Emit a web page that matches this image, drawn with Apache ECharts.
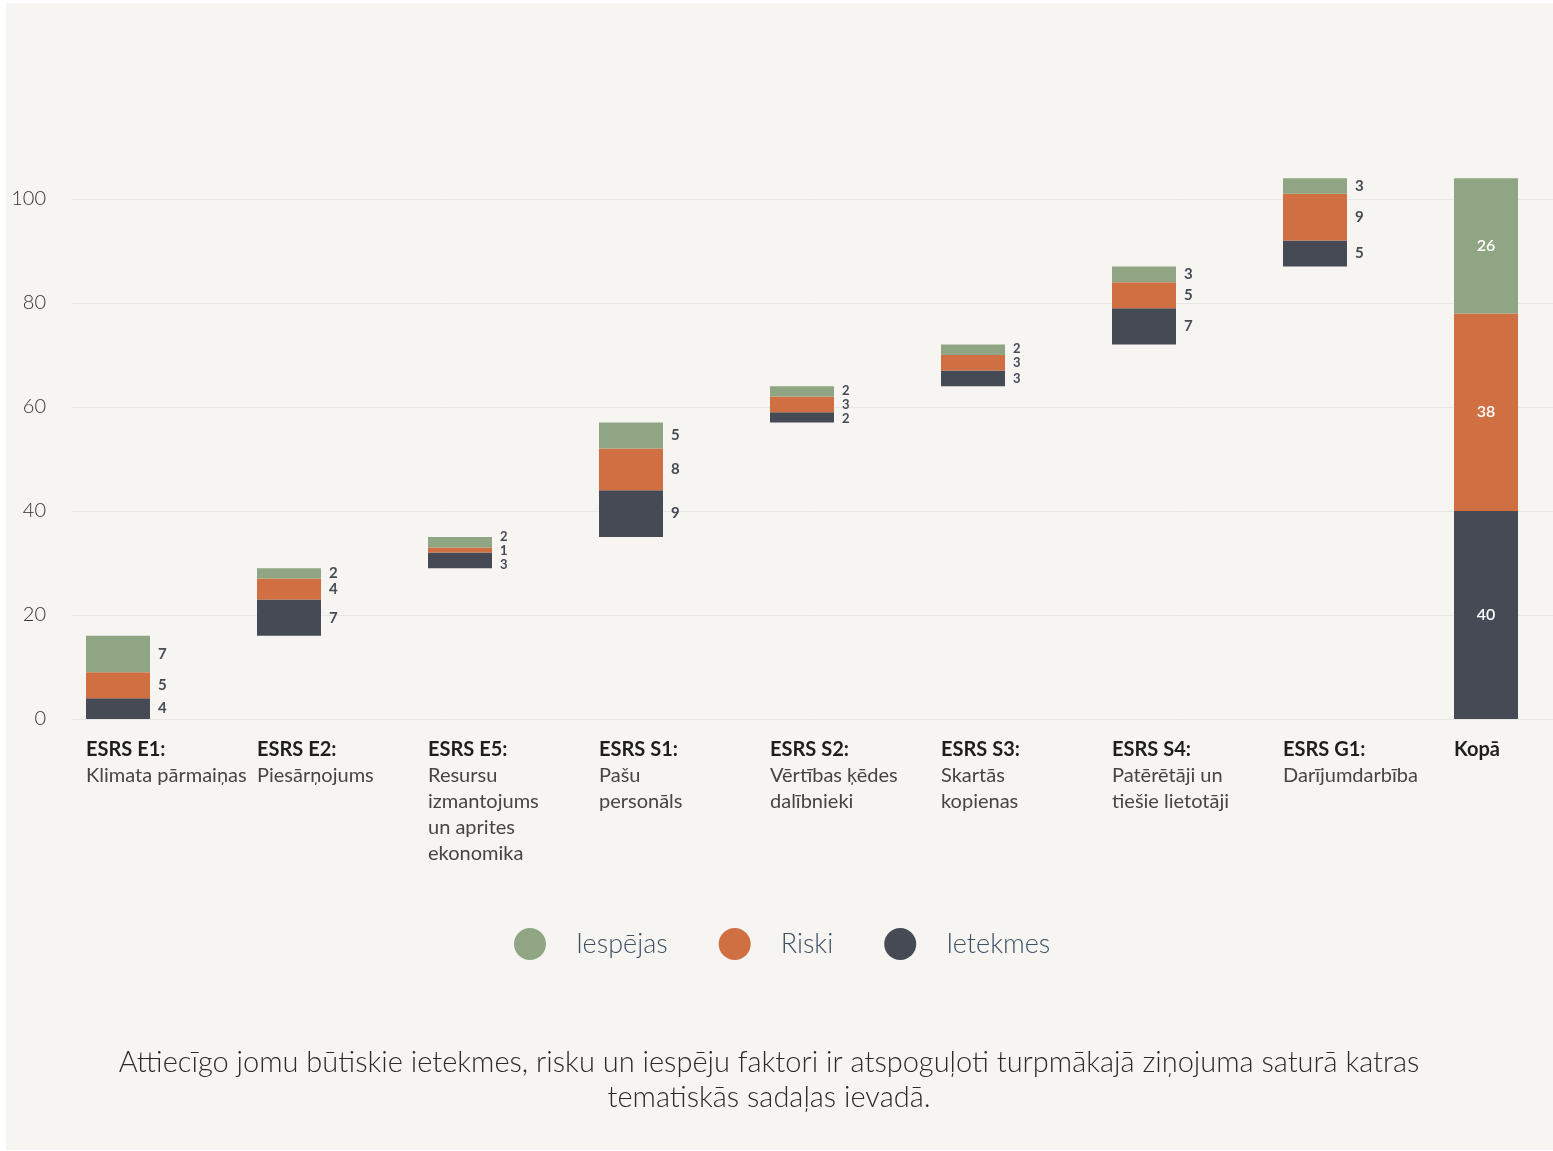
<!DOCTYPE html>
<html><head><meta charset="utf-8">
<script src="https://cdn.jsdelivr.net/npm/echarts@6/dist/echarts.min.js"></script>
<style>
html,body{margin:0;padding:0;background:#fff;}
#c{position:absolute;left:6px;top:3px;width:1547px;height:1147px;background:#f7f5f1;}
</style></head><body><div id="c"></div>
<script>
// ---- data ----
const codes = ['ESRS E1:','ESRS E2:','ESRS E5:','ESRS S1:','ESRS S2:','ESRS S3:','ESRS S4:','ESRS G1:','Kopā'];
const descs = ['Klimata pārmaiņas','Piesārņojums','Resursu\nizmantojums\nun aprites\nekonomika','Pašu\npersonāls','Vērtības ķēdes\ndalībnieki','Skartās\nkopienas','Patērētāji un\ntiešie lietotāji','Darījumdarbība',''];
const ietekmes = [4,7,3,9,2,3,7,5,40];
const riski    = [5,4,1,8,3,3,5,9,38];
const iespejas = [7,2,2,5,2,2,3,3,26];
const legendNames = ['Iespējas','Riski','Ietekmes'];
const footnote = 'Attiecīgo jomu būtiskie ietekmes, risku un iespēju faktori ir atspoguļoti turpmākajā ziņojuma saturā katras\ntematiskās sadaļas ievadā.';

// ---- derived waterfall base ----
const last = codes.length - 1;
const base = [];
let acc = 0;
for (let i = 0; i < codes.length; i++) {
  if (i === last) { base.push(0); }
  else { base.push(acc); acc += ietekmes[i] + riski[i] + iespejas[i]; }
}
const colTotal = i => ietekmes[i] + riski[i] + iespejas[i];
const labelFs = i => (colTotal(i) < 10 ? 13 : 15);

const FONT = 'Lato';
const colors = { Ietekmes: '#464a55', Riski: '#d07042', 'Iespējas': '#8fa583' };

function labelLayoutFn(params) {
  const j = params.dataIndex;
  if (j === last) return {};
  const k = params.seriesIndex - 1;
  const vals = [ietekmes[j], riski[j], iespejas[j]];
  const ppu = params.rect.height / vals[k];
  const g = labelFs(j) + 1;
  const p = []; let a = 0;
  for (let i = 0; i < 3; i++) { p.push((a + vals[i] / 2) * ppu); a += vals[i]; }
  const q = p.slice();
  for (let i = 1; i < 3; i++) if (q[i] < q[i - 1] + g) q[i] = q[i - 1] + g;
  const mean = ((q[0] - p[0]) + (q[1] - p[1]) + (q[2] - p[2])) / 3;
  const shift = q[k] - mean - p[k];
  return { y: params.rect.y + params.rect.height / 2 - shift, verticalAlign: 'middle' };
}

function mk(name, vals) {
  return {
    name, type: 'bar', stack: 'w', xAxisIndex: 1, yAxisIndex: 1, barWidth: 64,
    itemStyle: { color: colors[name] },
    label: { show: true, position: 'right', distance: 8, color: '#464a55', fontFamily: FONT, fontWeight: 700, fontSize: 15 },
    labelLayout: labelLayoutFn,
    data: vals.map((v, i) => i === last
      ? { value: v, label: { position: 'inside', color: '#ffffff', fontSize: 16, fontWeight: 600 } }
      : { value: v, label: { fontSize: labelFs(i) } })
  };
}

const chart = echarts.init(document.getElementById('c'), null, { renderer: 'canvas' });
const G_BOTTOM = 431;
const BAND = 171;
const B_LEFT = 26.5;
chart.setOption({
  animation: false,
  backgroundColor: '#f7f5f1',
  grid: [
    { left: 66, right: 0, top: 196, bottom: G_BOTTOM, outerBoundsMode: 'none' },
    { left: B_LEFT, width: BAND * 9, top: 92, bottom: G_BOTTOM, outerBoundsMode: 'none' },
    { left: B_LEFT - 32, width: BAND * 9, top: 92, bottom: G_BOTTOM, outerBoundsMode: 'none' }
  ],
  xAxis: [
    { gridIndex: 0, type: 'value', show: false, min: 0, max: 1 },
    { gridIndex: 1, type: 'category', data: codes, show: false },
    { gridIndex: 2, type: 'category', data: codes,
      axisLine: { show: false }, axisTick: { show: false },
      axisLabel: {
        interval: 0, align: 'left', margin: 18,
        formatter: (v, idx) => descs[idx] ? '{b|' + codes[idx] + '}\n{n|' + descs[idx] + '}' : '{b|' + codes[idx] + '}',
        rich: {
          b: { fontFamily: FONT, fontWeight: 700, fontSize: 20, color: '#1e1e1e', lineHeight: 26, align: 'left' },
          n: { fontFamily: FONT, fontWeight: 400, fontSize: 20, color: '#454545', lineHeight: 26, align: 'left' }
        }
      }
    }
  ],
  yAxis: [
    { gridIndex: 0, type: 'value', min: 0, max: 100, interval: 20,
      axisLine: { show: false }, axisTick: { show: false },
      splitLine: { lineStyle: { color: '#e8e6e2', width: 1 } },
      axisLabel: { margin: 26, color: '#333333', fontFamily: FONT, fontWeight: 300, fontSize: 20 } },
    { gridIndex: 1, type: 'value', min: 0, max: 120, show: false },
    { gridIndex: 2, type: 'value', min: 0, max: 120, show: false }
  ],
  legend: {
    data: legendNames, left: 508, top: 925, padding: 0, itemWidth: 32, itemHeight: 32, itemGap: 51, icon: 'circle',
    selectedMode: false,
    textStyle: { fontFamily: FONT, fontWeight: 300, fontSize: 27, color: '#3e5163', padding: [0, 0, 0, 25] }
  },
  graphic: [{
    type: 'text', x: 763, y: 1077.5, silent: true,
    style: { text: footnote, x: 0, y: 0, align: 'center', verticalAlign: 'middle',
      font: '300 29px Lato', lineHeight: 35, fill: '#2a2a2a' }
  }],
  series: [
    { name: 'base', type: 'bar', stack: 'w', xAxisIndex: 1, yAxisIndex: 1, barWidth: 64,
      itemStyle: { color: 'rgba(0,0,0,0)' }, silent: true, label: { show: false }, data: base },
    mk('Ietekmes', ietekmes),
    mk('Riski', riski),
    mk('Iespējas', iespejas)
  ]
});
</script></body></html>
